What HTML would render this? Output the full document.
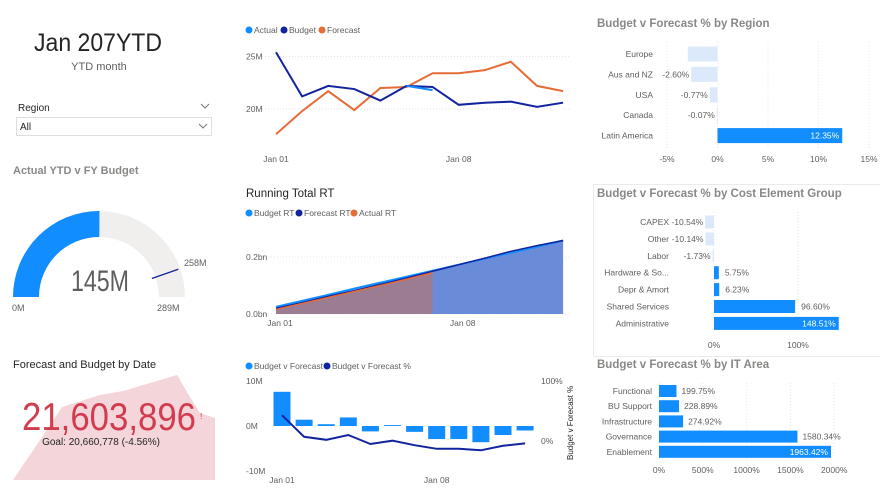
<!DOCTYPE html>
<html><head><meta charset="utf-8">
<style>
html,body{margin:0;padding:0;background:#fff;}
body{width:880px;height:490px;overflow:hidden;font-family:"Liberation Sans",sans-serif;}
svg text{font-family:"Liberation Sans",sans-serif;}
</style></head>
<body>
<svg id="dash" width="880" height="490" viewBox="0 0 880 490" xmlns="http://www.w3.org/2000/svg">
  <!-- header -->
  <text x="34" y="51" font-size="25" fill="#252423" textLength="128" lengthAdjust="spacingAndGlyphs">Jan 207YTD</text>
  <text x="99" y="70" font-size="11" fill="#605e5c" text-anchor="middle">YTD month</text>
  <g>
    <text x="18" y="111" font-size="10" fill="#252423">Region</text>
    <path d="M201,104 l4,4 l4,-4" fill="none" stroke="#777" stroke-width="1"/>
    <rect x="16.5" y="117.5" width="195" height="18" fill="#fff" stroke="#e1dfdd"/>
    <text x="20" y="130" font-size="10" fill="#252423">All</text>
    <path d="M199,124 l4,4 l4,-4" fill="none" stroke="#777" stroke-width="1"/>
  </g>

  <!-- gauge -->
  <text x="13" y="174" font-size="11" font-weight="bold" fill="#8a8886">Actual YTD v FY Budget</text>
  <g id="gauge"></g>

  <!-- KPI -->
  <polygon points="13,480 40,440 62,407 100,395 123,391 177,375 190,397 200,413 215,418 215,480" fill="#f4d5da"/>
  <text x="13" y="368" font-size="11" fill="#252423">Forecast and Budget by Date</text>
  <text x="22" y="430" font-size="39" fill="#d13d4e" textLength="174" lengthAdjust="spacingAndGlyphs">21,603,896</text>
  <text x="200" y="419" font-size="8" fill="#d13d4e">!</text>
  <text x="101" y="445" font-size="10" fill="#252423" text-anchor="middle">Goal: 20,660,778 (-4.56%)</text>

  <!-- line chart -->
  <g font-size="8.5" fill="#605e5c">
    <circle cx="249" cy="30" r="3.5" fill="#118dff"/><text x="254" y="33">Actual</text>
    <circle cx="284" cy="30" r="3.5" fill="#12239e"/><text x="289" y="33">Budget</text>
    <circle cx="322" cy="30" r="3.5" fill="#e66c37"/><text x="327" y="33">Forecast</text>
  </g>
  <g id="lineChart"></g>

  <!-- running total -->
  <text x="246" y="197" font-size="11.5" fill="#252423">Running Total RT</text>
  <g font-size="8.5" fill="#605e5c">
    <circle cx="249" cy="213" r="3.5" fill="#118dff"/><text x="254" y="216">Budget RT</text>
    <circle cx="299" cy="213" r="3.5" fill="#12239e"/><text x="304" y="216">Forecast RT</text>
    <circle cx="354" cy="213" r="3.5" fill="#e66c37"/><text x="359" y="216">Actual RT</text>
  </g>
  <g id="rtChart"></g>

  <!-- combo -->
  <g font-size="8.5" fill="#605e5c">
    <circle cx="249" cy="366" r="3.5" fill="#118dff"/><text x="254" y="369">Budget v Forecast</text>
    <circle cx="327" cy="366" r="3.5" fill="#12239e"/><text x="332" y="369">Budget v Forecast %</text>
  </g>
  <text transform="translate(573,460) rotate(-90)" font-size="8" fill="#252423">Budget v Forecast %</text>
  <g id="comboChart"></g>

  <!-- right panels -->
  <text x="597" y="27" font-size="11.5" font-weight="bold" fill="#8a8886">Budget v Forecast % by Region</text>
  <g id="regionChart"></g>
  <rect x="593.5" y="184.5" width="290" height="172" fill="none" stroke="#ebebeb"/>
  <text x="597" y="197" font-size="11.5" font-weight="bold" fill="#8a8886">Budget v Forecast % by Cost Element Group</text>
  <g id="costChart"></g>
  <text x="597" y="368" font-size="11.5" font-weight="bold" fill="#8a8886">Budget v Forecast % by IT Area</text>
  <g id="itChart"></g>
</svg>

<script>
// ---------- data ----------
const days = ["Jan 01","Jan 02","Jan 03","Jan 04","Jan 05","Jan 06","Jan 07","Jan 08","Jan 09","Jan 10","Jan 11","Jan 12"];
const budgetM = [25.4,21.2,22.2,21.9,20.8,22.2,22.1,20.4,20.6,20.7,20.2,20.6];
const forecastM = [17.6,19.8,21.7,19.9,22.0,22.1,23.4,23.4,23.7,24.5,22.2,21.7];
const actualM = [null,null,null,null,null,22.2,21.8,null,null,null,null,null];
const lineTicks = [20,25];

const budgetRT = [0.025,0.046,0.067,0.089,0.110,0.131,0.152,0.173,0.194,0.215,0.236,0.258];
const forecastRT = [0.020,0.040,0.062,0.082,0.104,0.126,0.150,0.173,0.196,0.220,0.240,0.258];
const actualRT = [0.016,0.037,0.058,0.079,0.100,0.122,0.145];
const rtTicks = [0,0.2];

const bvfM = [7.6,1.4,0.4,1.9,-1.2,0.2,-1.3,-2.9,-2.9,-3.6,-2.0,-1.0];
const bvfPct = [43,7,2,10,-5,0.5,-7,-13,-13,-15.5,-8,-4];
const comboTicks = [-10,0,10];
const comboPctTicks = [0,100];

const regions = ["Europe","Aus and NZ","USA","Canada","Latin America"];
const regionVals = [-2.94,-2.60,-0.77,-0.07,12.35];
const regionTicks = [-5,0,5,10,15];

const costGroups = ["CAPEX","Other","Labor","Hardware & So...","Depr & Amort","Shared Services","Administrative"];
const costVals = [-10.54,-10.14,-1.73,5.75,6.23,96.60,148.51];
const costTicks = [0,100];

const itAreas = ["Functional","BU Support","Infrastructure","Governance","Enablement"];
const itVals = [199.75,228.89,274.92,1580.34,1963.42];
const itTicks = [0,500,1000,1500,2000];

const gaugeValue = 145, gaugeMax = 289, gaugeTarget = 258;

// ---------- helpers ----------
const NS = "http://www.w3.org/2000/svg";
function mk(parent, tag, attrs, txt){
  const e = document.createElementNS(NS, tag);
  for (const k in attrs) e.setAttribute(k, attrs[k]);
  if (txt !== undefined) e.textContent = txt;
  parent.appendChild(e);
  return e;
}
function fmtPct(v){ return v.toFixed(2)+"%"; }

// ---------- line chart ----------
(function(){
  const g = document.getElementById("lineChart");
  const x = i => 276 + i*26.1;
  const y = v => 109 - (v-20)*10.5;
  lineTicks.forEach(t=>{
    const gl = mk(g,"line",{x1:262,x2:570,y1:y(t),y2:y(t),stroke:"#e6e6e6","stroke-dasharray":"1,2"});
    
    
    const tl = mk(g,"text",{x:246,y:y(t)+3,"font-size":8.5,fill:"#605e5c"},t+"M");
    
    
  });
  [0,7].forEach(i=>{
    const tl = mk(g,"text",{x:x(i),y:162,"font-size":8.5,fill:"#605e5c","text-anchor":"middle"},days[i]);
    
    
  });
  function path(arr){
    let d="", pen=false;
    arr.forEach((v,i)=>{ if(v===null){pen=false;return;} d+=(pen?"L":"M")+x(i)+","+y(v); pen=true; });
    return d;
  }
  const pf = mk(g,"path",{d:path(forecastM),fill:"none",stroke:"#e66c37","stroke-width":2});
  
  
  const pb = mk(g,"path",{d:path(budgetM),fill:"none",stroke:"#12239e","stroke-width":2});
  
  
  const pa = mk(g,"path",{d:path(actualM),fill:"none",stroke:"#118dff","stroke-width":2});
  
  
})();

// ---------- running total ----------
(function(){
  const g = document.getElementById("rtChart");
  const x = i => 276 + i*26.1;
  const y = v => 314 - v*285;
  rtTicks.forEach(t=>{
    const gl = mk(g,"line",{x1:262,x2:570,y1:y(t),y2:y(t),stroke:"#e6e6e6","stroke-dasharray":"1,2"});
    
    
    const tl = mk(g,"text",{x:246,y:y(t)+3,"font-size":8.5,fill:"#605e5c"},t.toFixed(1)+"bn");
    
    
  });
  [0,7].forEach(i=>{
    const tl = mk(g,"text",{x:x(i)+4,y:326,"font-size":8.5,fill:"#605e5c","text-anchor":"middle"},days[i]);
    
    
  });
  function area(arr){
    let d="M"+x(0)+","+y(0);
    arr.forEach((v,i)=>{ d+="L"+x(i)+","+y(v); });
    return d+"L"+x(arr.length-1)+","+y(0)+"Z";
  }
  function line(arr){ return arr.map((v,i)=>(i?"L":"M")+x(i)+","+y(v)).join(""); }
  const fa = mk(g,"path",{d:area(forecastRT),fill:"#6a8bd7"});
  
  
  const aa = mk(g,"path",{d:area(actualRT),fill:"#9a7d93"});
  
  
  const bl = mk(g,"path",{d:line(budgetRT),fill:"none",stroke:"#118dff","stroke-width":2});
  
  
  const fl = mk(g,"path",{d:line(forecastRT),fill:"none",stroke:"#12239e","stroke-width":1.5});
  
  
  const al = mk(g,"path",{d:line(actualRT),fill:"none",stroke:"#e66c37","stroke-width":1.5});
  
  
})();

// ---------- combo ----------
(function(){
  const g = document.getElementById("comboChart");
  const x = i => 282 + i*22.1;
  const y = v => 426 - v*4.5;
  const yp = p => 441 - p*0.6;
  comboTicks.forEach(t=>{
    const tl = mk(g,"text",{x:246,y:y(t)+3,"font-size":8.5,fill:"#605e5c"},t+"M");
    
    
  });
  comboPctTicks.forEach(t=>{
    const tl = mk(g,"text",{x:541,y:yp(t)+3,"font-size":8.5,fill:"#605e5c"},t+"%");
    
    
  });
  [0,7].forEach(i=>{
    const tl = mk(g,"text",{x:x(i),y:483,"font-size":8.5,fill:"#605e5c","text-anchor":"middle"},days[i]);
    
    
  });
  bvfM.forEach((v,i)=>{
    const top = Math.min(y(v),y(0)), h = Math.max(Math.abs(y(v)-y(0)),0.8);
    const r = mk(g,"rect",{x:x(i)-8.5,y:top,width:17,height:h,fill:"#118dff"});
    
    
  });
  const p = mk(g,"path",{d:bvfPct.map((v,i)=>(i?"L":"M")+x(i)+","+yp(v)).join(""),fill:"none",stroke:"#12239e","stroke-width":2});
  
  
})();

// ---------- horizontal bar charts ----------
function hbar(id, cats, vals, ticks, opt){
  const g = document.getElementById(id);
  const x = v => opt.x0 + v*opt.scale;
  ticks.forEach(t=>{
    const gl = mk(g,"line",{x1:x(t),x2:x(t),y1:opt.gridTop,y2:opt.gridBot,stroke:"#e6e6e6","stroke-dasharray":"1,2"});
    
    
    const tl = mk(g,"text",{x:x(t),y:opt.tickY,"font-size":8.5,fill:"#605e5c","text-anchor":"middle"},t+"%");
    
    
  });
  cats.forEach((c,i)=>{
    const cy = opt.y0 + i*opt.step;
    const cl = mk(g,"text",{x:opt.labelX,y:cy+3,"font-size":8.5,fill:"#605e5c","text-anchor":"end"},c);
    
    
    const v = vals[i];
    const x1 = Math.min(x(0),x(v)), w = Math.max(Math.abs(x(v)-x(0)),0.8);
    const r = mk(g,"rect",{x:x1,y:cy-opt.bh/2,width:w,height:opt.bh,fill:v<0?"#dbe9fb":"#118dff"});
    
    
    let lx, anchor="start", fill="#605e5c";
    if (opt.inside && opt.inside(v,i)) { lx = x(v)-3; anchor="end"; fill="#fff"; }
    else if (v<0) { lx = x(v)-2; anchor="end"; }
    else lx = x(v)+opt.pad;
    const vl = mk(g,"text",{x:lx,y:cy+3,"font-size":8.5,fill:fill,"text-anchor":anchor},fmtPct(v));
    
    
  });
}
hbar("regionChart", regions, regionVals, regionTicks,
  {x0:717.5,scale:10.1,y0:54,step:20.4,bh:15,labelX:653,tickY:162,gridTop:42,gridBot:148,pad:3,
   inside:(v,i)=>i===0||v>5});
hbar("costChart", costGroups, costVals, costTicks,
  {x0:714,scale:0.84,y0:222,step:16.9,bh:13,labelX:669,tickY:348,gridTop:212,gridBot:332,pad:6,
   inside:(v)=>v>120});
hbar("itChart", itAreas, itVals, itTicks,
  {x0:659,scale:0.0876,y0:391,step:15.2,bh:12,labelX:652,tickY:473,gridTop:383,gridBot:460,pad:5,
   inside:(v)=>v>1800});

// ---------- gauge ----------
(function(){
  const g = document.getElementById("gauge");
  const cx=99, cy=297, R=86, r=60;
  function pt(frac, rad){ const a=Math.PI*(1-frac); return [cx+rad*Math.cos(a), cy-rad*Math.sin(a)]; }
  function arc(f0,f1){
    const [a,b]=pt(f0,R),[c,d]=pt(f1,R),[e,f]=pt(f1,r),[h,k]=pt(f0,r);
    return `M${a},${b}A${R},${R} 0 0 1 ${c},${d}L${e},${f}A${r},${r} 0 0 0 ${h},${k}Z`;
  }
  const bg = mk(g,"path",{d:arc(0,1),fill:"#f0efee"});
  
  
  const fg = mk(g,"path",{d:arc(0,gaugeValue/gaugeMax),fill:"#118dff"});
  
  
  const tf = gaugeTarget/gaugeMax;
  const [t1,t2]=pt(tf,r-4),[t3,t4]=pt(tf,R-2);
  const tl = mk(g,"line",{x1:t1,y1:t2,x2:t3,y2:t4,stroke:"#12239e","stroke-width":1.3});
  
  
  const v = mk(g,"text",{x:71,y:291,"font-size":30,fill:"#605e5c",textLength:58,lengthAdjust:"spacingAndGlyphs"},gaugeValue+"M");
  
  
  const l0 = mk(g,"text",{x:12,y:311,"font-size":9,fill:"#605e5c"},"0M");
  
  
  const l1 = mk(g,"text",{x:157,y:311,"font-size":9,fill:"#605e5c"},gaugeMax+"M");
  
  
  const l2 = mk(g,"text",{x:184,y:266,"font-size":9,fill:"#605e5c"},gaugeTarget+"M");
  
  
})();
</script>
</body></html>
